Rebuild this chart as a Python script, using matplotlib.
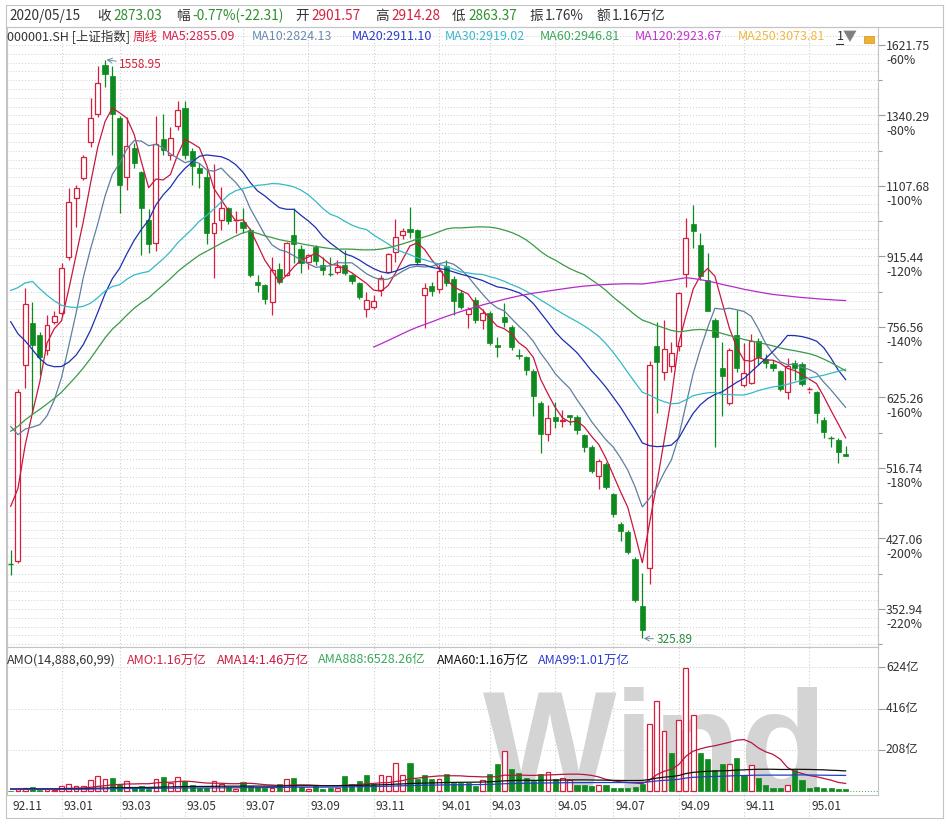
import numpy as np
import pandas as pd
import matplotlib
matplotlib.use('Agg')
import matplotlib.pyplot as plt
from matplotlib.patches import Rectangle
from matplotlib.lines import Line2D
from matplotlib.ticker import FixedLocator, NullFormatter
from matplotlib.transforms import blended_transform_factory, offset_copy

plt.rcParams['font.family'] = ['Noto Sans CJK SC', 'DejaVu Sans']
plt.rcParams['axes.unicode_minus'] = False

# ------------------------------------------------------------------ data
month_labels = ['92.11', '93.01', '93.03', '93.05', '93.07', '93.09', '93.11',
                '94.01', '94.03', '94.05', '94.07', '94.09', '94.11', '95.01']
month_start = [0, 7, 15, 24, 32, 41, 50, 59, 66, 75, 83, 92, 101, 110]

price_ticks = [1621.75, 1340.29, 1107.68, 915.44, 756.56, 625.26, 516.74, 427.06, 352.94]
pct_labels = ['-60%', '-80%', '-100%', '-120%', '-140%', '-160%', '-180%', '-200%', '-220%']
amount_ticks = [208, 416, 624]
amount_tick_labels = ['208亿', '416亿', '624亿']

open_ = [400, 402, 683, 764, 740, 711, 766, 785, 915, 1072,
         1131, 1249, 1346, 1536, 1491, 1332, 1136, 1227, 1150, 1010,
         949, 1258, 1205, 1304, 1367, 1218, 1162, 1136, 976, 1010,
         1045, 1008, 1006, 984, 855, 847, 810, 884, 871, 970,
         933, 903, 940, 895, 876, 877, 895, 871, 851, 794,
         799, 835, 877, 927, 969, 985, 983, 824, 845, 838,
         892, 861, 829, 784, 814, 771, 786, 720, 777, 756,
         702, 698, 672, 616, 566, 593, 586, 596, 593, 565,
         547, 505, 522, 482, 444, 435, 404, 356, 394, 719,
         670, 680, 719, 872, 999, 944, 859, 771, 677, 616,
         740, 647, 650, 729, 694, 684, 672, 635, 686, 684,
         637, 635, 589, 563, 558, 537]
high = [414, 640, 840, 810, 747, 782, 790, 899, 1101, 1111,
        1205, 1404, 1532, 1558.95, 1532, 1340, 1336, 1243, 1155, 1040,
        1340, 1346, 1298, 1395, 1392, 1226, 1178, 1157, 1176, 1106,
        1046, 1035, 1043, 990, 871, 850, 915, 900, 952, 1043,
        944, 922, 945, 915, 914, 906, 932, 873, 855, 832,
        825, 870, 925, 1012, 990, 1046, 985, 851, 855, 900,
        906, 868, 837, 798, 820, 795, 790, 737, 808, 760,
        712, 700, 675, 620, 613, 618, 605, 597, 596, 567,
        550, 530, 525, 483, 446, 437, 406, 389, 690, 767,
        771, 727, 832, 1015, 1052.94, 975, 923, 775, 727, 715,
        792, 724, 742, 735, 704, 691, 674, 695, 691, 689,
        644, 637, 593, 563, 560, 549]
low = [386.85, 400, 641, 599, 664, 701, 762, 779, 907, 992,
       1125, 1232, 1334, 1449, 1205, 1030, 1096, 1162, 919, 923,
       930, 1205, 1189, 1289, 1190, 1111, 1101, 947, 863, 984,
       1000, 975, 975, 865, 832, 806, 782, 850, 868, 900,
       876, 885, 895, 871, 868, 872, 870, 850, 815, 777,
       795, 822, 875, 903, 959, 962, 895, 754, 822, 830,
       845, 782, 795, 754, 764, 752, 720, 698, 757, 710,
       693, 665, 594, 538, 556, 575, 577, 580, 567, 539,
       510, 488, 488, 452, 424, 410, 360, 325.89, 378, 599,
       656, 670, 708, 844, 936, 859, 790, 547, 594, 612,
       670, 644, 649, 683, 677, 671, 637, 622, 656, 645,
       633, 584, 561, 547, 524, 533]
close = [399, 635, 806, 721, 698, 761, 779, 888, 1062, 1101,
         1199, 1332, 1462, 1500, 1346, 1111, 1234, 1178, 1043, 947,
         1241, 1221, 1260, 1360, 1205, 1169, 1147, 975, 1003, 1045,
         1008, 1010, 988, 871, 847, 815, 883, 855, 950, 946,
         900, 919, 905, 883, 874, 889, 876, 857, 820, 814,
         812, 864, 922, 964, 981, 979, 902, 840, 833, 881,
         851, 812, 798, 794, 770, 786, 725, 717, 766, 717,
         699, 674, 627, 566, 591, 586, 589, 593, 573, 547,
         513, 527, 491, 456, 436, 412, 362, 333.5, 683, 689,
         712, 706, 829, 962, 981, 868, 791, 737, 663, 711,
         678, 668, 728, 698, 687, 677, 639, 681, 678, 648,
         639, 599, 570, 561, 540, 533]
# weekly turnover (亿元)
amount = [4, 13, 18, 20, 8, 13, 8, 25, 39, 25,
          25, 59, 76, 64, 65, 39, 52, 20, 25, 12,
          64, 72, 42, 72, 54, 30, 17, 18, 52, 39,
          22, 13, 45, 25, 22, 15, 18, 35, 64, 65,
          22, 13, 25, 10, 18, 18, 76, 39, 50, 81,
          39, 81, 76, 144, 84, 143, 64, 81, 62, 64,
          86, 42, 42, 42, 27, 59, 89, 139, 201, 114,
          94, 69, 52, 86, 97, 60, 67, 55, 30, 30,
          27, 30, 30, 17, 17, 18, 22, 39, 341, 453,
          302, 193, 358, 623, 386, 195, 161, 106, 139, 139,
          170, 81, 131, 69, 30, 17, 17, 34, 106, 55,
          17, 22, 17, 17, 13, 10]

# weeks before the visible window (only feed the moving averages)
hist_close = [128, 132, 140, 150, 160, 170, 178, 180, 182, 183,
              185, 190, 198, 210, 220, 230, 245, 255, 262, 270, 278, 285, 290, 293,
              296, 300, 310, 313, 320, 350, 375, 370, 360, 365, 372, 380, 390, 410, 430, 440,
              445, 480, 620, 1200, 1200, 1150, 1180, 1170, 1140, 1120, 1130, 1090, 1060,
              1040, 990, 850, 880, 900, 840, 790, 760, 720, 690, 660, 620, 520, 500, 470, 440]
hist_amount = [1, 1, 1, 2, 2, 2, 2, 2, 2, 2,
               2, 3, 3, 3, 3, 4, 4, 4, 4, 5, 5, 5, 5, 5,
               5, 5, 6, 6, 6, 8, 10, 9, 8, 8, 8, 9, 10, 11, 12, 12,
               12, 14, 18, 30, 28, 22, 20, 18, 16, 15, 15, 14, 14,
               13, 15, 22, 16, 15, 14, 13, 12, 12, 11, 11, 10, 12, 12, 13, 14]

ma_periods = [5, 10, 20, 30, 60, 120]
ama_periods = [14, 60, 99]

# ------------------------------------------------------------------ style
W, H = 947, 824
RED = '#d81e3c'
GREEN = '#0f8a1f'
DARK = '#333333'
FRAME = '#c4c4c4'
GRID = '#cfcfcf'
MA_COLORS = {5: '#c8173f', 10: '#5f7f9f', 20: '#1c2fb0', 30: '#35b9c9',
             60: '#3a9a48', 120: '#b52ac8'}
AMA_COLORS = {14: '#b5173f', 60: '#111111', 99: '#2040c8'}

# pixel layout
P_REF, Y_REF, PX_PER_LN = 1621.75, 45.0, 369.8
X_FIRST, X_STEP = 10.7, 7.26
LEFT, RIGHT = 7, 878
PTOP, PBOT, VBOT = 27, 647, 795
VOL_BASE_Y, VOL_PX = 791.3, 41.3 / 208

fig = plt.figure(figsize=(W / 100, H / 100), dpi=100)
fig.patch.set_facecolor('white')


def frect(x0, y0, x1, y1):
    return [x0 / W, 1 - y1 / H, (x1 - x0) / W, (y1 - y0) / H]


def fline(x0, y0, x1, y1, color=FRAME, lw=0.8, ls='-'):
    fig.add_artist(Line2D([x0 / W, x1 / W], [1 - y0 / H, 1 - y1 / H], color=color,
                          lw=lw, ls=ls, transform=fig.transFigure))


def ftext(x, y, s, color=DARK, size=9, ha='left', **kw):
    fig.text(x / W, 1 - y / H, s, color=color, fontsize=size, ha=ha, va='center', **kw)


n = len(close)
xs = np.arange(n)

axp = fig.add_axes(frect(LEFT, PTOP, RIGHT, PBOT))
axv = fig.add_axes(frect(LEFT, PBOT, RIGHT, VBOT))
xlim = ((LEFT - X_FIRST) / X_STEP, (RIGHT - X_FIRST) / X_STEP)
for ax in (axp, axv):
    ax.set_xlim(*xlim)
    ax.set_facecolor('white')
    for s in ax.spines.values():
        s.set_color(FRAME)
        s.set_linewidth(0.8)
    ax.tick_params(axis='x', bottom=False, labelbottom=False)

axp.set_yscale('log')
axp.set_ylim(P_REF * np.exp(-(PBOT - Y_REF) / PX_PER_LN), P_REF * np.exp((Y_REF - PTOP) / PX_PER_LN))
axv.set_ylim(-(VBOT - VOL_BASE_Y) / VOL_PX, (VOL_BASE_Y - PBOT) / VOL_PX)

# ---------------- grids
for k in range(-2, 70):
    axp.axhline(P_REF * 1.21 ** (-k / 8), color=GRID, lw=0.7, ls=(0, (1, 2)), zorder=0.5)
for idx in month_start[1:]:
    axp.axvline(idx, color=GRID, lw=0.8, ls=(0, (1, 2)), zorder=0.5)
    axv.axvline(idx, color=GRID, lw=0.8, ls=(0, (1, 2)), zorder=0.5)
for t in amount_ticks:
    axv.axhline(t, color=GRID, lw=0.7, ls=(0, (1, 2)), zorder=0.5)
axv.axhline(0, color='#3aa85a', lw=0.7, ls=(0, (1, 2)), zorder=2)

# ---------------- candles
for i in range(n):
    o, h, l, c = open_[i], high[i], low[i], close[i]
    top, bot = max(o, c), min(o, c)
    col = RED if c >= o else GREEN
    flat = top / bot < 1.004
    if c >= o:
        axp.vlines(i, top, h, color=col, lw=0.9, zorder=3)
        axp.vlines(i, l, bot, color=col, lw=0.9, zorder=3)
    else:
        axp.vlines(i, l, h, color=col, lw=0.9, zorder=3)
    if flat:
        axp.hlines(c, i - 0.36, i + 0.36, color=col, lw=1.0, zorder=3)
    elif c >= o:
        axp.add_patch(Rectangle((i - 0.34, bot), 0.68, top - bot, facecolor='white',
                                edgecolor=col, lw=0.9, zorder=3))
    else:
        axp.add_patch(Rectangle((i - 0.36, bot), 0.72, top - bot, facecolor=col,
                                edgecolor=col, lw=0.5, zorder=3))

# ---------------- moving averages
nh = len(hist_close)
all_close = pd.Series(hist_close + close, dtype=float)
for p in ma_periods:
    m = all_close.rolling(p).mean().to_numpy()[nh:]
    axp.plot(xs, m, color=MA_COLORS[p], lw=0.9, zorder=4)

# ---------------- annotations
imax = int(np.argmax(high))
imin = int(np.argmin(low))
axp.annotate(f'{high[imax]:.2f}', xy=(imax, high[imax]), xytext=(14, -5),
             textcoords='offset pixels', color='#d0203a', fontsize=8.5, ha='left', va='center',
             arrowprops=dict(arrowstyle='->', color='#6a8ca0', lw=0.7, shrinkA=0, shrinkB=1))
axp.annotate(f'{low[imin]:.2f}', xy=(imin, low[imin]), xytext=(14, -1),
             textcoords='offset pixels', color='#2a8a3a', fontsize=8.5, ha='left', va='center',
             arrowprops=dict(arrowstyle='->', color='#6a8ca0', lw=0.7, shrinkA=0, shrinkB=1))

# ---------------- volume
prev_close = [hist_close[-1]] + close[:-1]
for i in range(n):
    up = close[i] >= prev_close[i]
    if up:
        axv.add_patch(Rectangle((i - 0.33, 0), 0.66, amount[i], facecolor='white',
                                edgecolor=RED, lw=0.9, zorder=3))
    else:
        axv.add_patch(Rectangle((i - 0.35, 0), 0.70, amount[i], facecolor=GREEN,
                                edgecolor=GREEN, lw=0.5, zorder=3))
all_amt = pd.Series(hist_amount + amount, dtype=float)
for p in ama_periods:
    m = all_amt.rolling(p, min_periods=1).mean().to_numpy()[nh:]
    axv.plot(xs, m, color=AMA_COLORS[p], lw=0.9, zorder=4)

# watermark
axv.text((483 - LEFT) / (RIGHT - LEFT), (VBOT - 791) / (VBOT - PBOT), 'Wind',
         transform=axv.transAxes, fontsize=102, family='Liberation Sans', weight='bold',
         color='#d4d4d4', ha='left', va='baseline', zorder=1, clip_on=True)

# ---------------- right axis ticks / labels
axp.yaxis.tick_right()
axp.yaxis.set_major_locator(FixedLocator(price_ticks))
minor = [np.sqrt(a * b) for a, b in zip(price_ticks[:-1], price_ticks[1:])] + [price_ticks[-1] / 1.1]
axp.yaxis.set_minor_locator(FixedLocator(minor))
axp.yaxis.set_major_formatter(NullFormatter())
axp.yaxis.set_minor_formatter(NullFormatter())
axp.tick_params(axis='y', which='major', right=True, left=False, direction='out', length=5,
                width=0.8, color='#9a9a9a')
axp.tick_params(axis='y', which='minor', right=True, left=False, direction='out', length=3,
                width=0.8, color='#9a9a9a')
tp = blended_transform_factory(axp.transAxes, axp.transData)
for v, pl in zip(price_ticks, pct_labels):
    axp.text(1, v, f'{v:.2f}', transform=offset_copy(tp, fig=fig, x=8, y=-2, units='dots'),
             color=DARK, fontsize=8.8, ha='left', va='center', clip_on=False)
    axp.text(1, v, pl, transform=offset_copy(tp, fig=fig, x=8, y=-16, units='dots'),
             color=DARK, fontsize=8.8, ha='left', va='center', clip_on=False)

axv.yaxis.tick_right()
axv.yaxis.set_major_locator(FixedLocator(amount_ticks))
axv.yaxis.set_major_formatter(NullFormatter())
axv.tick_params(axis='y', which='major', right=True, left=False, direction='out', length=5,
                width=0.8, color='#9a9a9a')
tv = blended_transform_factory(axv.transAxes, axv.transData)
for v, lab in zip(amount_ticks, amount_tick_labels):
    axv.text(1, v, lab, transform=offset_copy(tv, fig=fig, x=8, y=0, units='dots'),
             color=DARK, fontsize=8.8, ha='left', va='center', clip_on=False)

# x labels
tx = blended_transform_factory(axv.transData, axv.transAxes)
for idx, lab in zip(month_start, month_labels):
    axv.text(idx, 0, lab, transform=offset_copy(tx, fig=fig, x=2, y=-11, units='dots'),
             color=DARK, fontsize=8.6, ha='left', va='center', clip_on=False)
for idx in month_start[1:]:
    xp = X_FIRST + idx * X_STEP
    fline(xp, VBOT, xp, 818, color=GRID, lw=0.8, ls=(0, (1, 2)))

# ---------------- frame
fline(6, 5, 943, 5)
fline(6, 818, 943, 818)
fline(6, 5, 6, 818)
fline(943, 5, 943, 818)
fline(6, PTOP, 943, PTOP)

# ---------------- header rows
row1 = [(9, '2020/05/15', DARK), (97, '收', DARK), (113, '2873.03', '#2f8f2f'),
        (176, '幅', DARK), (192, '-0.77%(-22.31)', '#2f8f2f'),
        (295, '开', DARK), (311, '2901.57', '#d42040'),
        (375, '高', DARK), (391, '2914.28', '#d42040'),
        (452, '低', DARK), (468, '2863.37', '#2f8f2f'),
        (530, '振', DARK), (545, '1.76%', DARK),
        (596, '额', DARK), (612, '1.16万亿', DARK)]
for x, s, c in row1:
    ftext(x, 16, s, color=c, size=9.8)

row2 = [(7, '000001.SH [上证指数]', DARK), (133, '周线', '#e0203a'),
        (162, 'MA5:2855.09', '#d8204a'), (252, 'MA10:2824.13', '#6a8ab0'),
        (352, 'MA20:2911.10', '#2a3ccc'), (445, 'MA30:2919.02', '#3ab8cc'),
        (540, 'MA60:2946.81', '#3aa85a'), (635, 'MA120:2923.67', '#c030d0'),
        (738, 'MA250:3073.81', '#f0b840')]
for x, s, c in row2:
    ftext(x, 37, s, color=c, size=9)
ftext(837, 37, '1', color=DARK, size=9)
fline(836, 44, 843, 44, color=DARK, lw=0.8)
ftext(843, 37, '▼', color='#808080', size=10)
fig.add_artist(Rectangle((864 / W, 1 - 43 / H), 10 / W, 7 / H, transform=fig.transFigure,
                         facecolor='#f0b030', edgecolor='#d09020', lw=0.5))

row3 = [(7, 'AMO(14,888,60,99)', DARK), (127, 'AMO:1.16万亿', '#d42040'),
        (217, 'AMA14:1.46万亿', '#c8173f'), (318, 'AMA888:6528.26亿', '#3aa85a'),
        (437, 'AMA60:1.16万亿', '#111111'), (538, 'AMA99:1.01万亿', '#2a3ccc')]
for x, s, c in row3:
    ftext(x, 660, s, color=c, size=9)

fig.savefig('out.png', dpi=100, facecolor='white')
